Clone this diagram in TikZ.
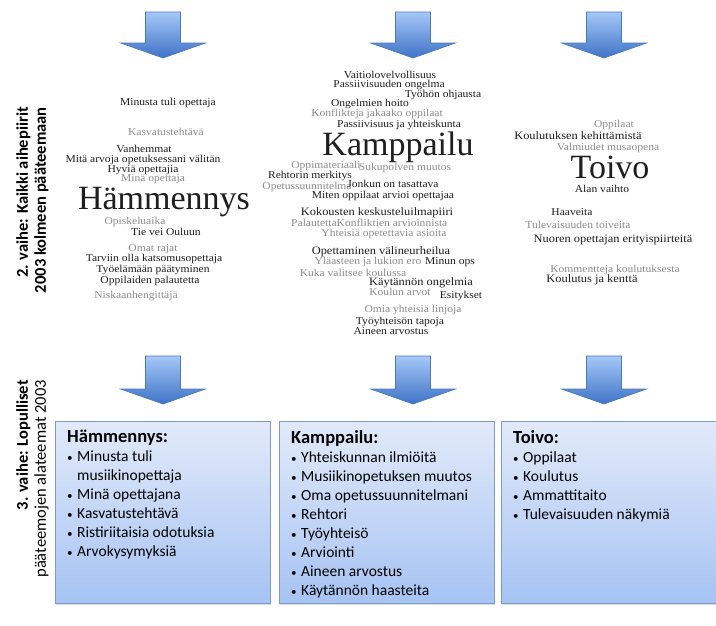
\documentclass[tikz,border=0pt]{standalone}
\usepackage{fontspec}
\setmainfont{Liberation Serif}
\newfontfamily\cloudfont[FakeStretch=1.1]{Liberation Serif}
\newfontfamily\calfont{Carlito}
\usetikzlibrary{shadows}
\definecolor{wblack}{HTML}{1E1E1E}
\definecolor{wgray}{HTML}{8C8C8C}
\definecolor{arrtop}{HTML}{A6C8F9}
\definecolor{arrbot}{HTML}{3E73C6}
\definecolor{arredge}{HTML}{4A78BE}
\definecolor{boxtop}{HTML}{E2EAF9}
\definecolor{boxbot}{HTML}{A6C3F3}
\definecolor{boxedge}{HTML}{7D9ACB}
\tikzset{
  w/.style={font=\cloudfont\fontsize{10.5}{11}\selectfont, text=wblack, inner sep=0pt},
  wb/.style={font=\cloudfont\fontsize{11.3}{12}\selectfont, text=wblack, inner sep=0pt},
  g/.style={w, text=wgray},
  big/.style={font=\fontsize{34}{36}\selectfont, text=wblack, inner sep=0pt, anchor=base},
  barrow/.style={top color=arrtop, bottom color=arrbot, draw=arredge, line width=0.6pt},
  panel/.style={draw=boxedge, line width=0.8pt, top color=boxtop, bottom color=boxbot,
    minimum width=215, minimum height=182, anchor=north west, inner sep=0pt,
    drop shadow={opacity=0.25, shadow xshift=1pt, shadow yshift=-2pt}},
  btext/.style={font=\calfont\fontsize{15.5}{19}\selectfont, anchor=north west, align=left, inner sep=0pt},
  vlabel/.style={font=\calfont\fontsize{16.5}{18}\selectfont, rotate=90, align=right, anchor=north east, inner sep=0pt}
}
\newcommand\blockarrow[3]{\shade[barrow] (#1-17.5,#2) -- (#1+17.5,#2) -- (#1+17.5,#3-15) -- (#1+42.5,#3-15) -- (#1,#3) -- (#1-42.5,#3-15) -- (#1-17.5,#3-15) -- cycle;}
\newcommand\bitem{\makebox[10pt][l]{\fontsize{11}{11}\selectfont\textbullet}}
\newcommand\bcont{\hspace*{10pt}}
\newcommand\btitle[1]{{\fontsize{18.5}{19}\selectfont\bfseries #1}}
\begin{document}
\begin{tikzpicture}[x=1pt,y=-1pt]
\useasboundingbox (0,0) rectangle (716,625);
\fill[white] (0,0) rectangle (716,625);

% block arrows
\foreach \cx in {163,413,604}{
  \blockarrow{\cx}{12}{58}
  \blockarrow{\cx}{356}{404}
}

% vertical labels
\node[vlabel, font=\calfont\bfseries\fontsize{16.5}{18}\selectfont] (lab2) at (16,107) {2. vaihe: Kaikki aihepiirit\\2003 kolmeen pääteemaan};
\node[vlabel] (lab3) at (16,380) {\textbf{3. vaihe: Lopulliset}\\pääteemojen alateemat 2003};

% left cloud
\node[w] (l1) at (168,103) {Minusta tuli opettaja};
\node[g] (l2) at (166,132) {Kasvatustehtävä};
\node[w] (l3) at (144,149) {Vanhemmat};
\node[w] (l4) at (143,160) {Mitä arvoja opetuksessani välitän};
\node[w] (l5) at (143,170) {Hyviä opettajia};
\node[g] (l6) at (153,179) {Minä opettaja};
\node[big] (l7) at (164,209) {Hämmennys};
\node[g] (l8) at (135,222) {Opiskeluaika};
\node[w] (l9) at (166,232) {Tie vei Ouluun};
\node[g] (l10) at (153,249) {Omat rajat};
\node[w] (l11) at (154,259) {Tarviin olla katsomusopettaja};
\node[w] (l12) at (153,270) {Työelämään päätyminen};
\node[w] (l13) at (150,281) {Oppilaiden palautetta};
\node[g] (l14) at (136,296) {Niskaanhengittäjä};

% middle cloud
\node[w] (m1) at (390,75) {Vaitiolovelvollisuus};
\node[w] (m2) at (389,85) {Passiivisuuden ongelma};
\node[w] (m3) at (443,95) {Työhön ohjausta};
\node[w] (m4) at (370,104) {Ongelmien hoito};
\node[g] (m5) at (377,114) {Konflikteja jakaako oppilaat};
\node[w] (m6) at (399,125) {Passiivisuus ja yhteiskunta};
\node[big] (m7) at (398,155) {Kamppailu};
\node[g] (m8) at (326,166) {Oppimateriaali};
\node[g] (m9) at (405,168) {Sukupolven muutos};
\node[w] (m10) at (310,176) {Rehtorin merkitys};
\node[g] (m11) at (307,187) {Opetussuunnitelma};
\node[w] (m12) at (393,184) {Jonkun on tasattava};
\node[w] (m13) at (383,196) {Miten oppilaat arvioi opettajaa};
\node[wb] (m14) at (377,213) {Kokousten keskusteluilmapiiri};
\node[g] (m15) at (314,223) {Palautetta};
\node[g] (m16) at (392,223) {Konfliktien arvioinnista};
\node[g] (m17) at (384,234) {Yhteisiä opetettavia asioita};
\node[wb] (m18) at (381,252) {Opettaminen välineurheilua};
\node[g] (m19) at (368,262) {Yläasteen ja lukion ero};
\node[w] (m20) at (450,262) {Minun ops};
\node[g] (m21) at (353,273) {Kuka valitsee koulussa};
\node[wb] (m22) at (421,283) {Käytännön ongelmia};
\node[g] (m23) at (400,292) {Koulun arvot};
\node[w] (m24) at (461,296) {Esitykset};
\node[g] (m25) at (413,310) {Omia yhteisiä linjoja};
\node[w] (m26) at (400,322) {Työyhteisön tapoja};
\node[w] (m27) at (391,331) {Aineen arvostus};

% right cloud
\node[g] (r1) at (614,125) {Oppilaat};
\node[wb] (r2) at (578,136) {Koulutuksen kehittämistä};
\node[g] (r3) at (608,148) {Valmiudet musaopena};
\node[big] (r4) at (610,178) {Toivo};
\node[w] (r5) at (602,189) {Alan vaihto};
\node[w] (r6) at (572,212) {Haaveita};
\node[g] (r7) at (578,225) {Tulevaisuuden toiveita};
\node[wb] (r8) at (613,240) {Nuoren opettajan erityispiirteitä};
\node[g] (r9) at (615,270) {Kommentteja koulutuksesta};
\node[wb] (r10) at (592,280) {Koulutus ja kenttä};

% panels
\node[panel] (b1) at (55,421) {};
\node[panel] (b2) at (279,421) {};
\node[panel] (b3) at (501,421) {};

\node[btext] (t1) at ([xshift=12pt,yshift=-9pt]b1.north west) {\btitle{Hämmennys:}\\
\bitem Minusta tuli\\
\bcont musiikinopettaja\\
\bitem Minä opettajana\\
\bitem Kasvatustehtävä\\
\bitem Ristiriitaisia odotuksia\\
\bitem Arvokysymyksiä};

\node[btext] (t2) at ([xshift=12pt,yshift=-9pt]b2.north west) {\btitle{Kamppailu:}\\
\bitem Yhteiskunnan ilmiöitä\\
\bitem Musiikinopetuksen muutos\\
\bitem Oma opetussuunnitelmani\\
\bitem Rehtori\\
\bitem Työyhteisö\\
\bitem Arviointi\\
\bitem Aineen arvostus\\
\bitem Käytännön haasteita};

\node[btext] (t3) at ([xshift=12pt,yshift=-9pt]b3.north west) {\btitle{Toivo:}\\
\bitem Oppilaat\\
\bitem Koulutus\\
\bitem Ammattitaito\\
\bitem Tulevaisuuden näkymiä};
\end{tikzpicture}
\end{document}
